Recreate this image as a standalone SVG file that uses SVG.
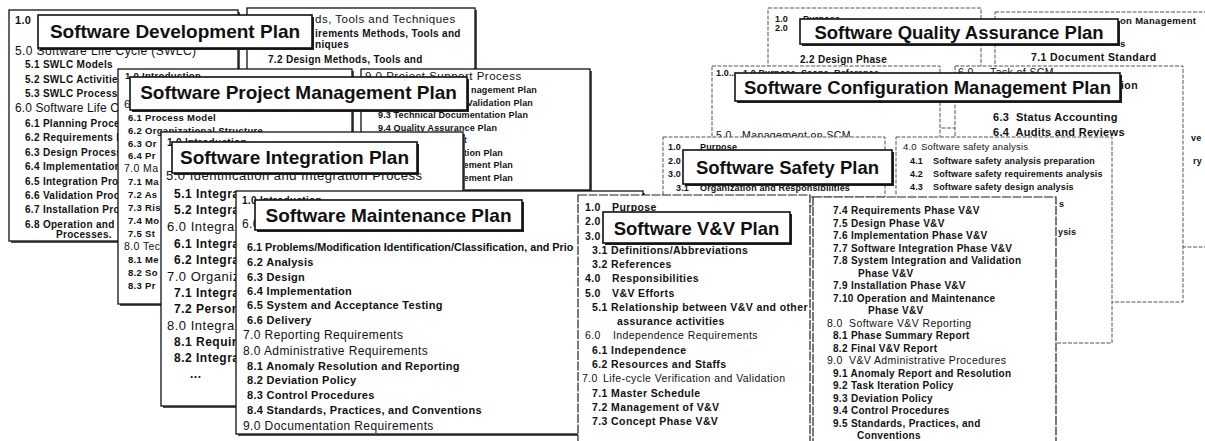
<svg xmlns="http://www.w3.org/2000/svg" width="1205" height="441" viewBox="0 0 1205 441">
<style>
  text { font-family: "Liberation Sans", Arial, Helvetica, sans-serif; fill: #111; }
  .pg { fill: #fff; stroke: #111; stroke-width: 1.3; }
  .sh { fill: #555; }
  .pd { fill: #fff; stroke: #555; stroke-width: 1; stroke-dasharray: 4 1.5; }
  .pv { fill: #fff; stroke: #222; stroke-width: 1.2; stroke-dasharray: 9 1.5; }
  .tb { fill: #fff; stroke: #111; stroke-width: 1.6; }
  .tbs { fill: #222; }
  .tt { font-weight: bold; font-size: 19px; text-anchor: middle; }
  .tr { font-weight: bold; font-size: 18.5px; text-anchor: middle; }
  .b9 { font-weight: bold; font-size: 9px; letter-spacing: 0.15px; }
  .b95 { font-weight: bold; font-size: 9.5px; letter-spacing: 0.3px; }
  .b10 { font-weight: bold; font-size: 10px; letter-spacing: 0.3px; }
  .b105 { font-weight: bold; font-size: 10.5px; letter-spacing: 0.4px; }
  .b11 { font-weight: bold; font-size: 11px; letter-spacing: 0.3px; }
  .b12 { font-weight: bold; font-size: 12px; letter-spacing: 0.5px; }
  .r9 { font-size: 9.5px; letter-spacing: 0.2px; }
  .r10 { font-size: 10.5px; letter-spacing: 0.4px; }
  .r11 { font-size: 11.5px; letter-spacing: 0.5px; }
  .r12 { font-size: 12px; letter-spacing: 0.4px; }
  .r13 { font-size: 13px; letter-spacing: 0.5px; }
  .e { text-anchor: end; }
</style>

<!-- Software Development Plan -->
<g id="sdp">
  <rect class="sh" x="11" y="12" width="229" height="231"/>
  <rect class="pg" x="9" y="10" width="229" height="231"/>
  <text class="b11" x="15" y="24">1.0</text>
  <text class="r12" x="15" y="55">5.0 Software Life Cycle (SWLC)</text>
  <text class="b10" x="25" y="68">5.1 SWLC Models</text>
  <text class="b10" x="25" y="83">5.2 SWLC Activities</text>
  <text class="b10" x="25" y="97">5.3 SWLC Process</text>
  <text class="r12" x="15" y="112" style="letter-spacing:0.1px">6.0 Software Life C</text>
  <text class="b10" x="25" y="127">6.1 Planning Proce</text>
  <text class="b10" x="25" y="141">6.2 Requirements P</text>
  <text class="b10" x="25" y="156">6.3 Design Process</text>
  <text class="b10" x="25" y="170">6.4 Implementation</text>
  <text class="b10" x="25" y="185">6.5 Integration Pro</text>
  <text class="b10" x="25" y="199">6.6 Validation Proc</text>
  <text class="b10" x="25" y="213">6.7 Installation Pro</text>
  <text class="b10" x="25" y="228">6.8 Operation and</text>
  <text class="b10" x="56" y="238">Processes.</text>

  <rect class="sh" x="249" y="10" width="228" height="140"/>
  <rect class="pg" x="247" y="8" width="228" height="140"/>
  <text class="r11" x="315" y="23">ds, Tools and Techniques</text>
  <text class="b10" x="315" y="37">irements Methods, Tools and</text>
  <text class="b10" x="315" y="48">niques</text>
  <text class="b10" x="268" y="63">7.2 Design Methods, Tools and</text>

  <rect class="tbs" x="40" y="17" width="274" height="33"/>
  <rect class="tb" x="38" y="15" width="274" height="33"/>
  <text class="tt" x="175" y="38">Software Development Plan</text>
</g>

<!-- Software Project Management Plan -->
<g id="spmp">
  <rect class="sh" x="120" y="71" width="234" height="235"/>
  <rect class="pg" x="118" y="69" width="234" height="235"/>
  <text class="b95" x="125" y="79">1.0 Introduction</text>
  <text class="r11" x="124" y="108">6.0</text>
  <text class="b95" x="128" y="121">6.1 Process Model</text>
  <text class="b95" x="128" y="134">6.2 Organizational Structure</text>
  <text class="b95" x="128" y="147">6.3 Or</text>
  <text class="b95" x="128" y="159">6.4 Pr</text>
  <text class="r10" x="124" y="172">7.0 Ma</text>
  <text class="b95" x="128" y="185">7.1 Ma</text>
  <text class="b95" x="128" y="198">7.2 As</text>
  <text class="b95" x="128" y="211">7.3 Ris</text>
  <text class="b95" x="128" y="224">7.4 Mo</text>
  <text class="b95" x="128" y="237">7.5 St</text>
  <text class="r10" x="124" y="250">8.0 Tec</text>
  <text class="b95" x="128" y="263">8.1 Me</text>
  <text class="b95" x="128" y="276">8.2 So</text>
  <text class="b95" x="128" y="289">8.3 Pr</text>

  <rect class="sh" x="363" y="71" width="229" height="121"/>
  <rect class="pg" x="361" y="69" width="229" height="121"/>
  <text class="r11" x="365" y="80">9.0 Project Support Process</text>
  <text class="b9 e" x="537" y="93">nagement Plan</text>
  <text class="b9 e" x="533" y="106">Validation Plan</text>
  <text class="b9" x="378" y="118">9.3 Technical Documentation Plan</text>
  <text class="b9" x="378" y="131">9.4 Quality Assurance Plan</text>
  <text class="b9 e" x="467" y="143">it</text>
  <text class="b9 e" x="503" y="156">tion Plan</text>
  <text class="b9 e" x="513" y="168">ement Plan</text>
  <text class="b9 e" x="513" y="181">ement Plan</text>

  <rect class="tbs" x="132" y="79" width="337" height="33"/>
  <rect class="tb" x="130" y="77" width="337" height="33"/>
  <text class="tt" x="298.5" y="99">Software Project Management Plan</text>
</g>

<!-- Software Integration Plan -->
<g id="sip">
  <rect class="sh" x="163" y="134" width="302" height="274"/>
  <rect class="pg" x="161" y="132" width="302" height="274"/>
  <text class="b10" x="167" y="146">1.0 Introduction</text>
  <text class="r13" x="166" y="180">5.0 Identification and Integration Process</text>
  <text class="b12" x="174" y="198">5.1 Integra</text>
  <text class="b12" x="174" y="214">5.2 Integra</text>
  <text class="r13" x="167" y="231">6.0 Integra</text>
  <text class="b12" x="174" y="248">6.1 Integra</text>
  <text class="b12" x="174" y="264">6.2 Integra</text>
  <text class="r13" x="167" y="281">7.0 Organiz</text>
  <text class="b12" x="174" y="297">7.1 Integra</text>
  <text class="b12" x="174" y="313">7.2 Person</text>
  <text class="r13" x="167" y="330">8.0 Integra</text>
  <text class="b12" x="174" y="346">8.1 Requir</text>
  <text class="b12" x="174" y="362">8.2 Integra</text>
  <text class="b12" x="190" y="378">...</text>

  <rect class="tbs" x="174" y="144" width="245" height="31"/>
  <rect class="tb" x="172" y="142" width="245" height="31"/>
  <text class="tt" x="294.5" y="164">Software Integration Plan</text>
</g>

<!-- Software Maintenance Plan -->
<g id="smp">
  <rect class="sh" x="238" y="193" width="407" height="243"/>
  <rect class="pg" x="236" y="191" width="407" height="243"/>
  <text class="b10" x="242" y="204">1.0 Introduction</text>
  <text class="r12" x="242" y="228">6.0</text>
  <text class="b11" x="247" y="251" style="font-size:10.8px;letter-spacing:0">6.1 Problems/Modification Identification/Classification, and Prio</text>
  <text class="b11" x="247" y="266">6.2 Analysis</text>
  <text class="b11" x="247" y="281">6.3 Design</text>
  <text class="b11" x="247" y="295">6.4 Implementation</text>
  <text class="b11" x="247" y="309">6.5 System and Acceptance Testing</text>
  <text class="b11" x="247" y="324">6.6 Delivery</text>
  <text class="r12" x="243" y="339">7.0 Reporting Requirements</text>
  <text class="r12" x="243" y="355">8.0 Administrative Requirements</text>
  <text class="b11" x="247" y="370">8.1 Anomaly Resolution and Reporting</text>
  <text class="b11" x="247" y="384">8.2 Deviation Policy</text>
  <text class="b11" x="247" y="399">8.3 Control Procedures</text>
  <text class="b11" x="247" y="414">8.4 Standards, Practices, and Conventions</text>
  <text class="r12" x="243" y="430">9.0 Documentation Requirements</text>

  <rect class="tbs" x="257" y="202" width="267" height="30"/>
  <rect class="tb" x="255" y="200" width="267" height="30"/>
  <text class="tt" x="388.5" y="222">Software Maintenance Plan</text>
</g>

<!-- Software Quality Assurance Plan -->
<g id="sqap">
  <rect class="pd" x="768" y="8" width="213" height="120"/>
  <text class="b9" x="775" y="22">1.0</text>
  <text class="b9" x="803" y="22">Purpose</text>
  <text class="b9" x="775" y="31">2.0</text>
  <text class="b10" x="800" y="63">2.2 Design Phase</text>

  <rect class="pd" x="995" y="12" width="220" height="235"/>
  <text class="b95" x="1120" y="24">on Management</text>
  <text class="b95" x="1120" y="47">s</text>
  <text class="b105" x="1031" y="61">7.1 Document Standard</text>
  <text class="b9" x="1191" y="141">ve</text>
  <text class="b9" x="1193" y="164">ry</text>

  <rect class="tbs" x="802" y="21" width="318" height="25"/>
  <rect class="tb" x="800" y="19" width="318" height="25"/>
  <text class="tr" x="959" y="39">Software Quality Assurance Plan</text>
</g>

<!-- Software Configuration Management Plan -->
<g id="scmp">
  <rect class="pd" x="712" y="66" width="228" height="140"/>
  <text class="b9" x="716" y="76">1.0...</text>
  <text class="b9" x="743" y="76">1.0 Purpose, Scope, Reference</text>
  <text class="r10" x="716" y="139">5.0</text>
  <text class="r10" x="742" y="139">Management on SCM</text>

  <rect class="pd" x="955" y="66" width="228" height="236"/>
  <text class="r10" x="958" y="76">6.0</text>
  <text class="r10" x="990" y="76">Task of SCM</text>
  <text class="b105" x="1121" y="89">ion</text>
  <text class="b11" x="993" y="121">6.3&#160; Status Accounting</text>
  <text class="b11" x="993" y="136">6.4&#160; Audits and Reviews</text>

  <rect class="tbs" x="737" y="75" width="385" height="28"/>
  <rect class="tb" x="735" y="73" width="385" height="28"/>
  <text class="tr" x="927.5" y="94">Software Configuration Management Plan</text>
</g>

<!-- Software Safety Plan -->
<g id="ssp">
  <rect class="pd" x="663" y="137" width="222" height="60"/>
  <text class="b9" x="668" y="150">1.0</text>
  <text class="b9" x="700" y="150">Purpose</text>
  <text class="b9" x="668" y="164">2.0</text>
  <text class="b9" x="668" y="177">3.0</text>
  <text class="b9" x="676" y="191">3.1</text>
  <text class="b9" x="700" y="191">Organization and Responsibilities</text>

  <rect class="pd" x="896" y="137" width="216" height="206"/>
  <text class="r9" x="903" y="150">4.0</text>
  <text class="r9" x="921" y="150">Software safety analysis</text>
  <text class="b9" x="910" y="164">4.1</text>
  <text class="b9" x="933" y="164">Software safety analysis preparation</text>
  <text class="b9" x="910" y="177">4.2</text>
  <text class="b9" x="933" y="177">Software safety requirements analysis</text>
  <text class="b9" x="910" y="190">4.3</text>
  <text class="b9" x="933" y="190">Software safety design analysis</text>
  <text class="b9" x="1059" y="207">s</text>
  <text class="b9" x="1058" y="235">ysis</text>

  <rect class="tbs" x="685" y="152" width="209" height="34"/>
  <rect class="tb" x="683" y="150" width="209" height="34"/>
  <text class="tr" x="787.5" y="174">Software Safety Plan</text>
</g>

<!-- Software V&V Plan -->
<g id="svvp">
  <rect class="pv" x="578" y="195" width="232" height="260"/>
  <text class="b105" x="585" y="211">1.0</text>
  <text class="b105" x="612" y="211">Purpose</text>
  <text class="b105" x="585" y="225">2.0</text>
  <text class="b105" x="585" y="240">3.0</text>
  <text class="b105" x="592" y="254">3.1 Definitions/Abbreviations</text>
  <text class="b105" x="592" y="268">3.2 References</text>
  <text class="b105" x="585" y="282">4.0</text>
  <text class="b105" x="612" y="282">Responsibilities</text>
  <text class="b105" x="585" y="297">5.0</text>
  <text class="b105" x="612" y="297">V&amp;V Efforts</text>
  <text class="b105" x="592" y="311">5.1 Relationship between V&amp;V and other</text>
  <text class="b105" x="617" y="325">assurance activities</text>
  <text class="r10" x="585" y="339">6.0</text>
  <text class="r10" x="613" y="339">Independence Requirements</text>
  <text class="b105" x="592" y="354">6.1 Independence</text>
  <text class="b105" x="592" y="368">6.2 Resources and Staffs</text>
  <text class="r10" x="582" y="382">7.0</text>
  <text class="r10" x="603" y="382">Life-cycle Verification and Validation</text>
  <text class="b105" x="592" y="397">7.1 Master Schedule</text>
  <text class="b105" x="592" y="411">7.2 Management of V&amp;V</text>
  <text class="b105" x="592" y="425">7.3 Concept Phase V&amp;V</text>

  <rect class="pv" x="813" y="197" width="243" height="260"/>
  <text class="b10" x="833" y="214">7.4 Requirements Phase V&amp;V</text>
  <text class="b10" x="833" y="226.5">7.5 Design Phase V&amp;V</text>
  <text class="b10" x="833" y="239">7.6 Implementation Phase V&amp;V</text>
  <text class="b10" x="833" y="251.5">7.7 Software Integration Phase V&amp;V</text>
  <text class="b10" x="833" y="264">7.8 System Integration and Validation</text>
  <text class="b10" x="858" y="276.5">Phase V&amp;V</text>
  <text class="b10" x="833" y="289">7.9 Installation Phase V&amp;V</text>
  <text class="b10" x="833" y="301.5">7.10 Operation and Maintenance</text>
  <text class="b10" x="868" y="314">Phase V&amp;V</text>
  <text class="r10" x="827" y="326.5">8.0</text>
  <text class="r10" x="849" y="326.5">Software V&amp;V Reporting</text>
  <text class="b10" x="833" y="339">8.1 Phase Summary Report</text>
  <text class="b10" x="833" y="351.5">8.2 Final V&amp;V Report</text>
  <text class="r10" x="827" y="364">9.0</text>
  <text class="r10" x="849" y="364">V&amp;V Administrative Procedures</text>
  <text class="b10" x="833" y="376.5">9.1 Anomaly Report and Resolution</text>
  <text class="b10" x="833" y="389">9.2 Task Iteration Policy</text>
  <text class="b10" x="833" y="401.5">9.3 Deviation Policy</text>
  <text class="b10" x="833" y="414">9.4 Control Procedures</text>
  <text class="b10" x="833" y="426.5">9.5 Standards, Practices, and</text>
  <text class="b10" x="857" y="439">Conventions</text>

  <rect class="tbs" x="605" y="214" width="187" height="31"/>
  <rect class="tb" x="603" y="212" width="187" height="31"/>
  <text class="tr" x="696.5" y="235">Software V&amp;V Plan</text>
</g>
</svg>
